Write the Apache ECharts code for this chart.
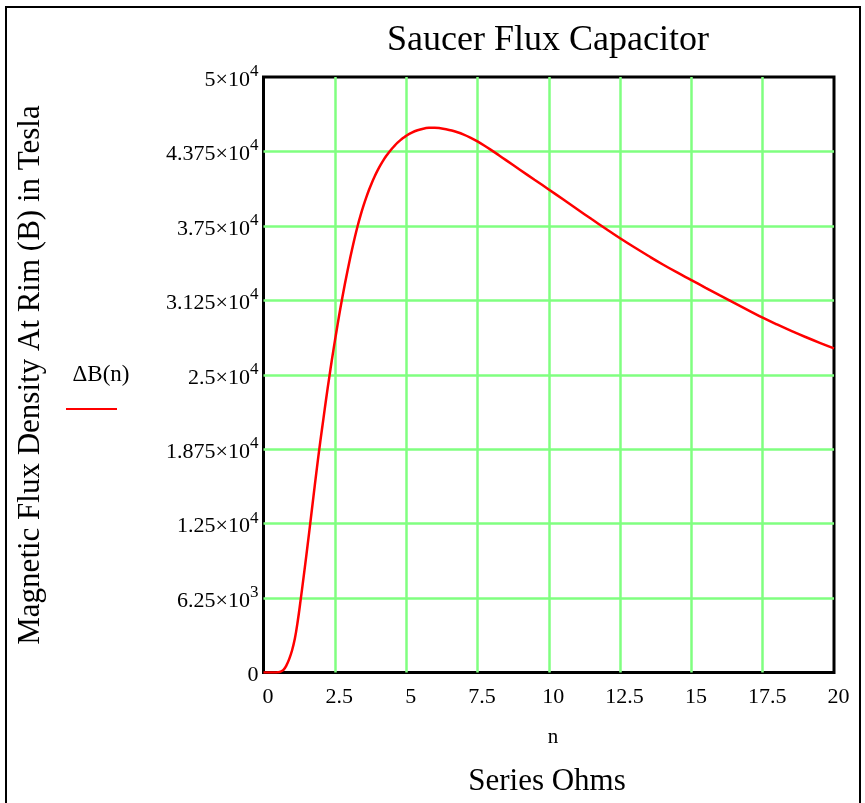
<!DOCTYPE html>
<html>
<head>
<meta charset="utf-8">
<script src="https://cdn.jsdelivr.net/npm/echarts@6/dist/echarts.min.js"></script>
<style>
html,body{margin:0;padding:0;background:#fff;}
#chart{width:865px;height:803px;}
</style>
</head>
<body>
<div id="chart"></div>
<script>
// Data
const nValues = [
  0, 0.25, 0.4,
  0.5, 0.6, 0.7, 0.8, 0.9, 1.0, 1.1, 1.2, 1.3, 1.4,
  1.5, 1.6, 1.7, 1.8, 1.9, 2.0, 2.1, 2.2, 2.3, 2.4,
  2.5, 2.6, 2.7, 2.8, 2.9, 3.0, 3.1, 3.2, 3.3, 3.4,
  3.5, 3.6, 3.7, 3.8, 3.9, 4.0, 4.1, 4.2, 4.3, 4.4,
  4.5, 4.6, 4.7, 4.8, 4.9, 5.0,
  5.2, 5.4, 5.6, 5.8, 6.0, 6.2, 6.4, 6.6, 6.8, 7.0,
  7.25, 7.5, 7.75, 8.0, 8.25, 8.5,
  9.0, 9.5, 10, 10.5, 11, 11.5, 12, 12.5, 13, 13.5, 14, 14.5,
  15, 15.5, 16, 16.5, 17, 17.5, 18, 18.5, 19, 19.5, 20
];
const bValues = [
  0, 0, 0,
  15, 70, 220, 580, 1120, 1850, 2850, 4300, 6050, 7900,
  9800, 11750, 13750, 15750, 17700, 19550, 21300, 23050, 24700, 26300,
  27800, 29250, 30650, 31950, 33190, 34370, 35480, 36520, 37490, 38360,
  39150, 39870, 40530, 41130, 41670, 42160, 42600, 43000, 43360, 43685,
  43980, 44245, 44485, 44700, 44890, 45060,
  45330, 45530, 45660, 45730, 45745, 45700, 45620, 45510, 45360, 45180,
  44910, 44590, 44230, 43840, 43435, 43020,
  42195, 41375, 40560, 39730, 38900, 38070, 37260, 36460, 35700, 34970, 34260, 33590,
  32950, 32300, 31660, 31030, 30410, 29790, 29220, 28680, 28170, 27680, 27220
];

const yTickValues = [0, 6250, 12500, 18750, 25000, 31250, 37500, 43750, 50000];
const yTickMantissa = ['0', '6.25', '1.25', '1.875', '2.5', '3.125', '3.75', '4.375', '5'];
const yTickExponent = ['', '3', '4', '4', '4', '4', '4', '4', '4'];
const xTickValues = [0, 2.5, 5, 7.5, 10, 12.5, 15, 17.5, 20];

const chartTitle = 'Saucer Flux Capacitor';
const yAxisTitle = 'Magnetic Flux Density At Rim (B) in Tesla';
const xAxisVar = 'n';
const xAxisTitle = 'Series Ohms';
const legendText = 'ΔB(n)';

const FONT = '"Liberation Serif", "Times New Roman", serif';
const chart = echarts.init(document.getElementById('chart'));

const seriesData = nValues.map((n, i) => [n, bValues[i]]);

chart.setOption({
  animation: false,
  backgroundColor: '#fff',
  grid: {
    left: 263.5, top: 77, right: 31, bottom: 130.5,
    show: true, borderColor: '#000', borderWidth: 3, backgroundColor: 'transparent'
  },
  xAxis: {
    type: 'value', min: 0, max: 20, interval: 2.5,
    axisLine: { show: false },
    axisTick: { show: false },
    splitLine: { show: true, showMinLine: false, showMaxLine: false, lineStyle: { color: '#80ff80', width: 2.5 } },
    axisLabel: {
      margin: 14, fontFamily: FONT, fontSize: 22, color: '#000', padding: [0, 0, 0, 9],
      formatter: v => {
        const i = xTickValues.findIndex(t => Math.abs(t - v) < 1e-6);
        return i >= 0 ? String(xTickValues[i]) : '';
      }
    }
  },
  yAxis: {
    type: 'value', min: 0, max: 50000, interval: 6250,
    axisLine: { show: false },
    axisTick: { show: false },
    splitLine: { show: true, showMinLine: false, showMaxLine: false, lineStyle: { color: '#80ff80', width: 2.5 } },
    axisLabel: {
      margin: 5, color: '#000',
      formatter: v => {
        const i = yTickValues.findIndex(t => Math.abs(t - v) < 1e-6);
        if (i < 0) return '';
        if (!yTickExponent[i]) return '{b|' + yTickMantissa[i] + '}';
        return '{b|' + yTickMantissa[i] + '×10}{s|' + yTickExponent[i] + '}';
      },
      rich: {
        b: { fontFamily: FONT, fontSize: 22, color: '#000', lineHeight: 28, verticalAlign: 'bottom' },
        s: { fontFamily: FONT, fontSize: 17, color: '#000', lineHeight: 28, verticalAlign: 'top' }
      }
    }
  },
  series: [{
    type: 'line',
    data: seriesData,
    showSymbol: false,
    smooth: 0.4,
    lineStyle: { color: '#ff0000', width: 2.5 },
    z: 5
  }],
  graphic: [
    { type: 'rect', shape: { x: 6, y: 7, width: 854, height: 830 }, style: { fill: 'none', stroke: '#000', lineWidth: 2 }, silent: true, z: -1 },
    { type: 'text', x: 548, y: 41, style: { text: chartTitle, font: '36px ' + FONT, fill: '#000', textAlign: 'center', textVerticalAlign: 'middle' } },
    { type: 'text', x: 31, y: 375, rotation: Math.PI / 2, style: { text: yAxisTitle, font: '31px ' + FONT, fill: '#000', textAlign: 'center', textVerticalAlign: 'middle' } },
    { type: 'text', x: 553, y: 737, style: { text: xAxisVar, font: '21px ' + FONT, fill: '#000', textAlign: 'center', textVerticalAlign: 'middle' } },
    { type: 'text', x: 547, y: 782, style: { text: xAxisTitle, font: '31px ' + FONT, fill: '#000', textAlign: 'center', textVerticalAlign: 'middle' } },
    { type: 'text', x: 101, y: 375, style: { text: legendText, font: '23px ' + FONT, fill: '#000', textAlign: 'center', textVerticalAlign: 'middle' } },
    { type: 'line', shape: { x1: 66, y1: 409, x2: 117, y2: 409 }, style: { stroke: '#ff0000', lineWidth: 2 } }
  ]
});
</script>
</body>
</html>
